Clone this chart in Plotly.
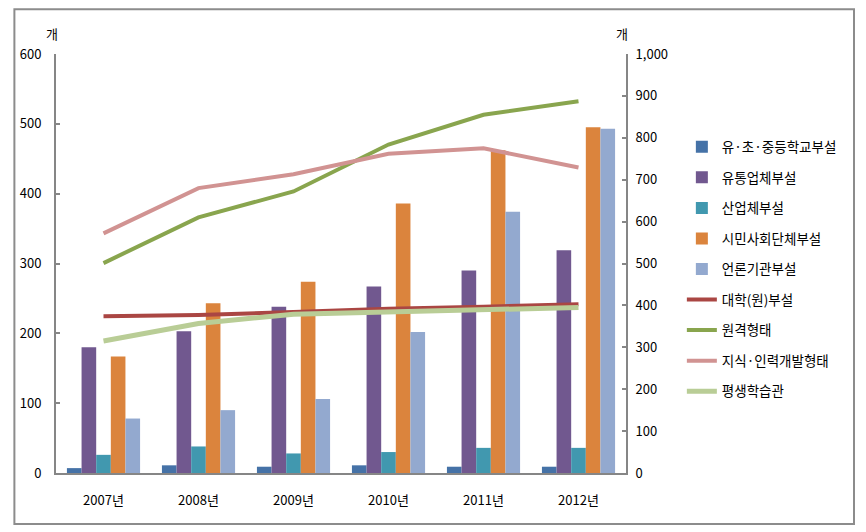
import plotly.graph_objects as go

years = ["2007년", "2008년", "2009년", "2010년", "2011년", "2012년"]

# bar series (left axis)
bar_names = ["유·초·중등학교부설", "유통업체부설", "산업체부설", "시민사회단체부설", "언론기관부설"]
school = [7, 11, 9, 11, 9, 9]
retail = [180, 203, 238, 267, 290, 319]
industry = [26, 38, 28, 30, 36, 36]
civic = [167, 243, 274, 386, 462, 495]
media = [78, 90, 106, 202, 374, 493]
bar_values = [school, retail, industry, civic, media]
bar_colors = ["#4572A7", "#71588F", "#4198AF", "#DB843D", "#93A9CF"]

# line series (right axis)
line_names = ["대학(원)부설", "원격형태", "지식·인력개발형태", "평생학습관"]
univ = [374, 377, 384, 392, 397, 403]
remote = [501, 610, 672, 784, 855, 887]
knowledge = [572, 680, 713, 762, 775, 729]
lifelong = [315, 357, 379, 384, 389, 395]
line_values = [univ, remote, knowledge, lifelong]
line_colors = ["#AA4643", "#89A54E", "#D19392", "#B9CD96"]
line_widths = [4, 4, 4, 5]

left_ticks = [0, 100, 200, 300, 400, 500, 600]
right_ticks = [0, 100, 200, 300, 400, 500, 600, 700, 800, 900, 1000]
right_ticktext = ["0", "100", "200", "300", "400", "500", "600", "700", "800", "900", "1,000"]

FONT = "Noto Sans CJK KR"
AXIS_COLOR = "#868686"

fig = go.Figure()
for i, (name, vals, col) in enumerate(zip(bar_names, bar_values, bar_colors)):
    fig.add_trace(go.Bar(x=years, y=vals, name=name, marker=dict(color=col, line=dict(width=0)),
                         legendgroup=f"g{i}", yaxis="y"))
for j, (name, vals, col, w) in enumerate(zip(line_names, line_values, line_colors, line_widths)):
    fig.add_trace(go.Scatter(x=years, y=vals, name=name, mode="lines",
                             line=dict(color=col, width=w), legendgroup=f"h{j}", yaxis="y2"))

fig.update_layout(
    width=858, height=524,
    margin=dict(l=43, r=240, t=46, b=59),
    paper_bgcolor="white", plot_bgcolor="white",
    font=dict(family=FONT, size=13, color="#000000"),
    barmode="group", bargap=0.23, bargroupgap=0,
    showlegend=True,
    legend=dict(x=1.098, y=0.815, xanchor="left", yanchor="top",
                font=dict(family=FONT, size=13.5, color="#000000"),
                itemwidth=30, tracegroupgap=10, bgcolor="rgba(0,0,0,0)"),
    xaxis=dict(showline=True, linecolor=AXIS_COLOR, linewidth=2, ticks="", showgrid=False,
               tickfont=dict(size=13), ticklabelstandoff=14),
    yaxis=dict(range=[0, 600], tickvals=left_ticks, showline=True, linecolor=AXIS_COLOR,
               linewidth=2, ticks="inside", ticklen=4, tickcolor=AXIS_COLOR, tickwidth=2,
               showgrid=False, zeroline=False, tickfont=dict(size=13), ticklabelstandoff=10),
    yaxis2=dict(range=[0, 1000], tickvals=right_ticks, ticktext=right_ticktext, overlaying="y",
                side="right", showline=True, linecolor=AXIS_COLOR, linewidth=2, ticks="inside",
                ticklen=4, tickcolor=AXIS_COLOR, tickwidth=2, showgrid=False, zeroline=False,
                tickfont=dict(size=13), ticklabelstandoff=5),
    shapes=[dict(type="rect", xref="paper", yref="paper", x0=-0.073, x1=1.4, y0=-0.1217, y1=1.107,
                 line=dict(color="#8C8C8C", width=2), fillcolor="rgba(0,0,0,0)", layer="below")],
    annotations=[
        dict(text="개", xref="paper", yref="paper", x=-0.0075, y=1.05, xanchor="center",
             yanchor="middle", showarrow=False, font=dict(family=FONT, size=13)),
        dict(text="개", xref="paper", yref="paper", x=0.993, y=1.05, xanchor="center",
             yanchor="middle", showarrow=False, font=dict(family=FONT, size=13)),
    ],
)

fig.write_html("out.html")
